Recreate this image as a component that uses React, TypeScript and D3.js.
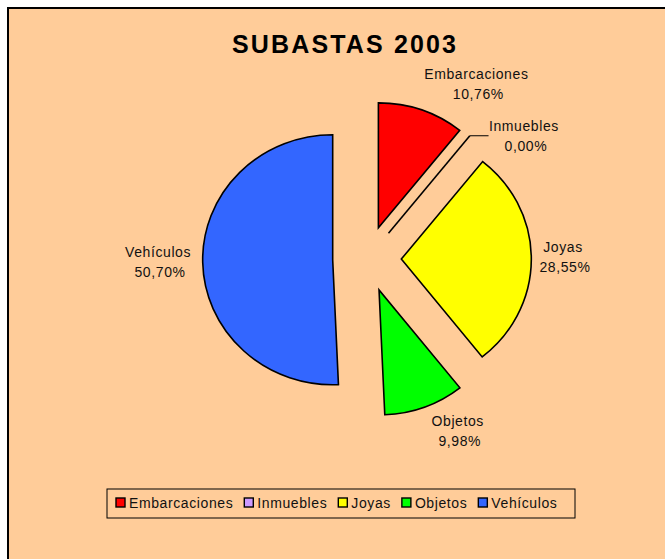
import { useEffect, useRef } from 'react'
import * as d3 from 'd3'

const categories = ['Embarcaciones', 'Inmuebles', 'Joyas', 'Objetos', 'Vehículos']
const shares = [10.76, 0.0, 28.55, 9.98, 50.7]
const colors = ['#ff0000', '#cc99ff', '#ffff00', '#00ff00', '#3366ff']
const title = 'SUBASTAS 2003'

const W = 665
const H = 559
const fmt = (v: number) => v.toFixed(2).replace('.', ',') + '%'

export default function App() {
  const svgRef = useRef<SVGSVGElement | null>(null)

  useEffect(() => {
    if (!svgRef.current) return
    const svg = d3.select(svgRef.current)
    svg.selectAll('*').remove()

    const font = '"Liberation Sans", Arial, sans-serif'

    svg.append('rect')
      .attr('x', 8).attr('y', 8).attr('width', W + 20).attr('height', H + 20)
      .attr('fill', '#ffcc99').attr('stroke', '#000').attr('stroke-width', 2)

    svg.append('text')
      .attr('x', 232).attr('y', 53)
      .attr('textLength', 224).attr('lengthAdjust', 'spacing')
      .attr('font-family', font).attr('font-weight', 'bold').attr('font-size', 25)
      .attr('fill', '#000')
      .text(title)

    // pie
    const cx = 367, cy = 259, r = 125, explode = 33, sx = 1.04
    const data = categories.map((c, i) => ({ name: c, value: shares[i], color: colors[i] }))
    const pie = d3.pie<typeof data[0]>().sort(null).value(d => d.value)
    const arcs = pie(data)
    const arc = d3.arc<d3.PieArcDatum<typeof data[0]>>().innerRadius(0).outerRadius(r)

    const g = svg.append('g').attr('transform', `translate(${cx},${cy}) scale(${sx},1)`)
    arcs.forEach(a => {
      const mid = (a.startAngle + a.endAngle) / 2
      const ox = Math.sin(mid) * explode
      const oy = -Math.cos(mid) * explode
      const sg = g.append('g').attr('transform', `translate(${ox},${oy})`)
      if (a.endAngle - a.startAngle < 1e-6) {
        const ex = Math.sin(mid) * r, ey = -Math.cos(mid) * r
        sg.append('line')
          .attr('x1', 0).attr('y1', 0).attr('x2', ex).attr('y2', ey)
          .attr('stroke', '#000').attr('stroke-width', 1.6)
          .attr('vector-effect', 'non-scaling-stroke')
        // leader line to label
        sg.append('line')
          .attr('x1', ex).attr('y1', ey).attr('x2', ex + 18).attr('y2', ey)
          .attr('stroke', '#000').attr('stroke-width', 1)
          .attr('vector-effect', 'non-scaling-stroke')
      } else {
        sg.append('path')
          .attr('d', arc(a) as string)
          .attr('fill', a.data.color)
          .attr('stroke', '#000').attr('stroke-width', 1.6)
          .attr('stroke-linejoin', 'miter')
          .attr('vector-effect', 'non-scaling-stroke')
      }
    })

    // data labels: placed outside each slice, shifted the way Excel left them
    const labelArc = d3.arc<d3.PieArcDatum<typeof data[0]>>().innerRadius(r + 50).outerRadius(r + 50)
    const nudges: [number, number][] = [[49, -11], [43, 12], [14, -3], [27, 7], [-27, -2]]
    arcs.forEach((a, i) => {
      const [lx, ly] = labelArc.centroid(a)
      const x = cx + lx * sx + nudges[i][0]
      const y = cy + ly + nudges[i][1]
      const t = svg.append('text')
        .attr('font-family', font).attr('font-size', 14)
        .attr('letter-spacing', 0.6).attr('fill', '#111')
        .attr('text-anchor', 'middle')
      t.append('tspan').attr('x', x).attr('y', y - 4).text(a.data.name)
      t.append('tspan').attr('x', x + 2).attr('y', y + 16).text(fmt(a.data.value))
    })

    // legend
    const lg = svg.append('g')
    lg.append('rect')
      .attr('x', 107).attr('y', 489).attr('width', 468).attr('height', 29)
      .attr('fill', 'none').attr('stroke', '#000').attr('stroke-width', 1)
    let x = 116
    categories.forEach((c, i) => {
      lg.append('rect')
        .attr('x', x).attr('y', 498).attr('width', 9).attr('height', 9)
        .attr('fill', colors[i]).attr('stroke', '#000').attr('stroke-width', 1.4)
      const t = lg.append('text')
        .attr('x', x + 13).attr('y', 508)
        .attr('font-family', font).attr('font-size', 14)
        .attr('letter-spacing', 0.6).attr('fill', '#111')
        .text(c)
      const len = (t.node() as SVGTextElement).getComputedTextLength()
      x += 13 + len + 11
    })
  }, [])

  return (
    <div style={{ position: 'absolute', left: 0, top: 0, width: W, height: H, overflow: 'hidden', background: '#fff' }}>
      <svg ref={svgRef} width={W} height={H} style={{ display: 'block' }} />
    </div>
  )
}
